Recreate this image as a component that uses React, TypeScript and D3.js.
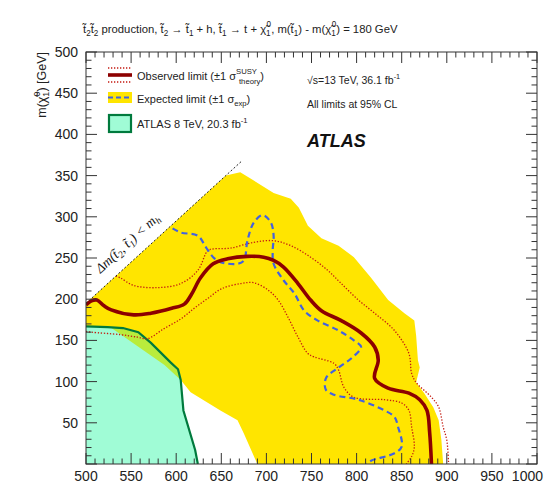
import React from "react";
import * as d3 from "d3";

// ---------- data ----------
const X_TICKS = [500, 550, 600, 650, 700, 750, 800, 850, 900, 950, 1000];
const Y_TICKS = [50, 100, 150, 200, 250, 300, 350, 400, 450, 500];

// kinematic boundary Δm(t2,t1) < m_h
const KIN_LIMIT: [number, number][] = [[500, 195], [672, 367]];

// expected ±1σ band (closed polygon)
const EXP_BAND: [number, number][] = [
  [500, 167], [500, 195], [655, 350], [671, 354], [686, 344], [708, 329], [727, 322],
  [736, 311], [746, 289], [761, 274], [780, 265], [797, 251], [816, 226], [835, 199],
  [853, 183], [864, 174], [866, 156], [868, 126], [870, 117], [866, 99], [875, 86],
  [885, 69], [891, 53], [894, 29], [896, 0], [690, 0], [675, 37], [668, 53], [649, 65],
  [616, 87], [605, 102], [587, 120], [535, 160], [527, 166],
];

const OBS: [number, number][] = [
  [500, 193], [506, 198], [512, 199], [520, 192], [528, 187], [553, 181], [572, 183],
  [595, 189], [609, 194], [617, 206], [627, 226], [641, 243], [657, 249], [679, 252],
  [697, 251], [708, 247], [719, 239], [735, 219], [749, 199], [761, 186], [783, 174],
  [805, 159], [820, 142], [824, 126], [820, 104], [835, 92], [858, 86], [870, 78],
  [878, 65], [881, 38], [883, 0],
];

const OBS_UP: [number, number][] = [
  [533, 228], [538, 226], [552, 217], [579, 214], [605, 219], [624, 235], [635, 259],
  [641, 261], [660, 262], [686, 269], [708, 271], [727, 265], [749, 251], [768, 235],
  [783, 219], [802, 199], [820, 183], [842, 162], [858, 134], [861, 110], [866, 99],
  [883, 81], [891, 69], [896, 45], [900, 29], [902, 0],
];

const OBS_DOWN: [number, number][] = [
  [500, 161], [506, 160], [538, 157], [557, 154], [568, 152], [586, 164], [605, 176],
  [620, 189], [635, 201], [651, 213], [672, 219], [686, 220], [702, 211], [713, 199],
  [724, 178], [735, 154], [746, 134], [753, 130], [775, 122], [780, 114], [786, 93],
  [797, 81], [831, 78], [850, 74], [858, 65], [861, 45], [864, 21], [861, 9], [855, 0],
];

const EXP: [number, number][] = [
  [596, 286], [605, 281], [624, 277], [633, 263], [641, 251], [649, 245], [668, 243],
  [675, 247], [679, 271], [686, 293], [696, 302], [705, 293], [708, 277], [707, 259],
  [708, 243], [719, 223], [731, 207], [742, 186], [757, 174], [780, 162], [797, 150],
  [805, 142], [794, 128], [780, 117], [766, 104], [766, 90], [775, 84], [802, 78],
  [831, 65], [842, 57], [846, 45], [850, 21], [842, 13], [816, 4], [811, 0],
];

const ATLAS8: [number, number][] = [
  [500, 167], [524, 166], [541, 165], [558, 160], [572, 147], [594, 123], [602, 115],
  [605, 102], [608, 65], [621, 17], [624, 0], [500, 0],
];

// ---------- styles ----------
const YELLOW = "#FFE500";
const AQUA = "#A0FCD6";
const LIME = "#B9EC3C";
const GREEN = "#007A3D";
const DARKRED = "#8C0000";
const DOTRED = "#C41A10";
const BLUE = "#4262E0";
const FONT = "'Liberation Sans', Arial, Helvetica, sans-serif";

export default function App() {
  const W = 544, H = 503;
  const x = d3.scaleLinear().domain([500, 1000]).range([86, 537]);
  const y = d3.scaleLinear().domain([0, 500]).range([464, 52]);
  const [x0, x1] = x.range();
  const [y0, y1] = y.range();

  const curve = d3.line<[number, number]>()
    .x(d => x(d[0])).y(d => y(d[1]))
    .curve(d3.curveCatmullRom.alpha(0.5));
  const straight = d3.line<[number, number]>().x(d => x(d[0])).y(d => y(d[1]));
  const poly = d3.line<[number, number]>()
    .x(d => x(d[0])).y(d => y(d[1]))
    .curve(d3.curveLinearClosed);

  const minorX = d3.range(500, 1001, 10);
  const minorY = d3.range(0, 501, 10);
  const isMajor = (v: number) => v % 50 === 0;
  const MAJ = 11, MIN = 5.5;

  // diagonal text placement
  const angle = -Math.atan2(y(0) - y(100), x(600) - x(500)) * 180 / Math.PI;
  const tx = x(516), ty = y(231);

  const sub = (t: string, shift = -3) => (
    <tspan fontSize="0.72em" baselineShift={shift}>{t}</tspan>
  );

  return (
    <svg width={W} height={H} style={{ position: "absolute", left: 0, top: 0, background: "#fff" }}
      fontFamily={FONT}>
      <defs>
        <clipPath id="plot">
          <rect x={x0} y={y1} width={x1 - x0} height={y0 - y1} />
        </clipPath>
        <clipPath id="a8">
          <path d={poly(ATLAS8) || ""} />
        </clipPath>
      </defs>

      <g clipPath="url(#plot)">
        <path d={poly(EXP_BAND) || ""} fill={YELLOW} />
        <path d={poly(ATLAS8) || ""} fill={AQUA} />
        <path d={poly(EXP_BAND) || ""} fill={LIME} clipPath="url(#a8)" />
        <path d={straight(ATLAS8.slice(0, ATLAS8.length - 1)) || ""} fill="none" stroke={GREEN} strokeWidth={2.2} />
        <path d={curve(OBS_UP) || ""} fill="none" stroke={DOTRED} strokeWidth={1.3} strokeDasharray="1.3 1.7" />
        <path d={curve(OBS_DOWN) || ""} fill="none" stroke={DOTRED} strokeWidth={1.3} strokeDasharray="1.3 1.7" />
        <path d={curve(EXP) || ""} fill="none" stroke={BLUE} strokeWidth={2.2} strokeDasharray="6 4" />
        <path d={curve(OBS) || ""} fill="none" stroke={DARKRED} strokeWidth={3.6} strokeLinejoin="round" />
        <path d={straight(KIN_LIMIT) || ""} fill="none" stroke="#222" strokeWidth={1} strokeDasharray="2 2" />
      </g>

      {/* diagonal label */}
      <text transform={`translate(${tx},${ty}) rotate(${angle})`} fontSize={13.5}
        fontFamily="'Liberation Serif', 'Times New Roman', serif" fontStyle="italic" fill="#111">
        Δm(t̃{sub("2", -3)}, t̃{sub("1", -3)}) &lt; m{sub("h", -3)}
      </text>

      {/* frame */}
      <rect x={x0} y={y1} width={x1 - x0} height={y0 - y1} fill="none" stroke="#333" strokeWidth={1} />
      <g stroke="#333" strokeWidth={1}>
        {minorX.map(v => {
          const L = isMajor(v) ? MAJ : MIN;
          return (
            <g key={"tx" + v}>
              <line x1={x(v)} x2={x(v)} y1={y0} y2={y0 - L} />
              <line x1={x(v)} x2={x(v)} y1={y1} y2={y1 + L} />
            </g>
          );
        })}
        {minorY.map(v => {
          const L = isMajor(v) ? MAJ : MIN;
          return (
            <g key={"ty" + v}>
              <line x1={x0} x2={x0 + L} y1={y(v)} y2={y(v)} />
              <line x1={x1} x2={x1 - L} y1={y(v)} y2={y(v)} />
            </g>
          );
        })}
      </g>

      {/* tick labels */}
      <g fontSize={14} fill="#222">
        {X_TICKS.map((v, i) => {
          const last = i === X_TICKS.length - 1;
          return (
            <text key={"lx" + v} x={last ? W - 1 : x(v)} y={481} textAnchor={last ? "end" : "middle"}>{v}</text>
          );
        })}
        {Y_TICKS.map(v => (
          <text key={"ly" + v} x={78} y={y(v) + 5} textAnchor="end">{v}</text>
        ))}
      </g>

      {/* y axis title */}
      <text transform={`translate(46,52) rotate(-90)`} textAnchor="end" fontSize={12.5} fill="#222">
        m(χ̃{sub("1", -3)}<tspan fontSize="0.72em" dx={-5} baselineShift={6}>0</tspan>) [GeV]
      </text>

      {/* title */}
      <text x={83} y={33} fontSize={11.3} fill="#222">
        t̃{sub("2")}t̃{sub("2")} production, t̃{sub("2")} → t̃{sub("1")} + h, t̃{sub("1")} → t + χ̃{sub("1")}
        <tspan fontSize="0.72em" dx={-4} baselineShift={6}>0</tspan>, m(t̃{sub("1")}) - m(χ̃{sub("1")}
        <tspan fontSize="0.72em" dx={-4} baselineShift={6}>0</tspan>) = 180 GeV
      </text>

      {/* legend */}
      <g>
        <line x1={108} x2={132} y1={68} y2={68} stroke={DOTRED} strokeWidth={1.3} strokeDasharray="1.3 1.7" />
        <line x1={108} x2={132} y1={75} y2={75} stroke={DARKRED} strokeWidth={3.6} />
        <line x1={108} x2={132} y1={82} y2={82} stroke={DOTRED} strokeWidth={1.3} strokeDasharray="1.3 1.7" />
        <rect x={108} y={92} width={24} height={11} fill={YELLOW} />
        <line x1={108} x2={132} y1={97.5} y2={97.5} stroke={BLUE} strokeWidth={2.2} strokeDasharray="5 3" />
        <rect x={109} y={115} width={22} height={17} fill={AQUA} stroke={GREEN} strokeWidth={2.2} />
        <g fontSize={11} fill="#222">
          <text x={137} y={80}>
            Observed limit (±1 σ<tspan fontSize="0.7em" baselineShift={6}>SUSY</tspan>
            <tspan fontSize="0.7em" dx={-18} baselineShift={-4}>theory</tspan>)
          </text>
          <text x={137} y={103}>
            Expected limit (±1 σ<tspan fontSize="0.7em" baselineShift={-3}>exp</tspan>)
          </text>
          <text x={137} y={128}>
            ATLAS 8 TeV, 20.3 fb<tspan fontSize="0.7em" baselineShift={5}>-1</tspan>
          </text>
        </g>
      </g>

      {/* right annotations */}
      <g fontSize={10.5} fill="#222">
        <text x={307} y={84}>√s=13 TeV, 36.1 fb<tspan fontSize="0.7em" baselineShift={5}>-1</tspan></text>
        <text x={307} y={108}>All limits at 95% CL</text>
      </g>
      <text x={307} y={147} fontSize={18} fontWeight="bold" fontStyle="italic" fill="#111">ATLAS</text>
    </svg>
  );
}
